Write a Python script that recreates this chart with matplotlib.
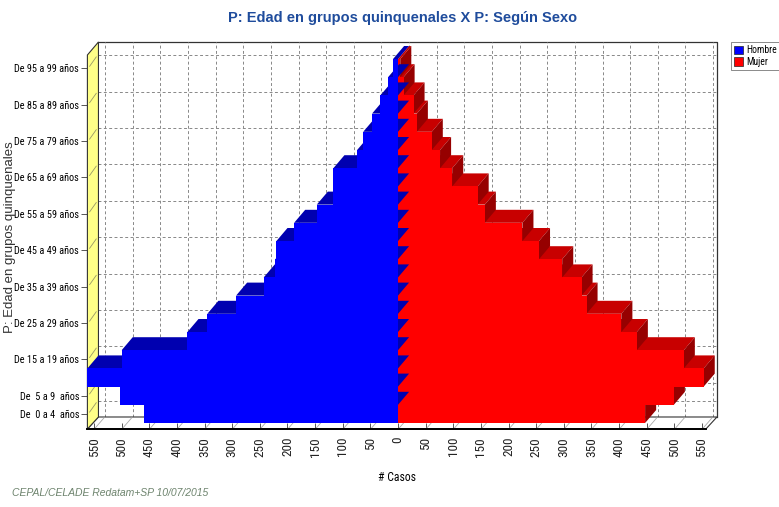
import matplotlib
matplotlib.use("Agg")
import matplotlib.pyplot as plt
from matplotlib.patches import Polygon, Rectangle
from matplotlib import font_manager
from matplotlib.font_manager import FontProperties

# ---------------- data ----------------
age_groups = ["De  0 a 4  años", "De  5 a 9  años", "De 10 a 14 años", "De 15 a 19 años",
              "De 20 a 24 años", "De 25 a 29 años", "De 30 a 34 años", "De 35 a 39 años",
              "De 40 a 44 años", "De 45 a 49 años", "De 50 a 54 años", "De 55 a 59 años",
              "De 60 a 64 años", "De 65 a 69 años", "De 70 a 74 años", "De 75 a 79 años",
              "De 80 a 84 años", "De 85 a 89 años", "De 90 a 94 años", "De 95 a 99 años"]
hombre = [460, 503, 572, 500, 381, 345, 293, 243, 222, 220,
          188, 147, 117, 117, 74, 63, 47, 32, 18, 9]
mujer = [447, 499, 553, 517, 432, 404, 341, 332, 297, 255,
         225, 157, 144, 98, 76, 61, 34, 28, 10, 4]
labeled_rows = [0, 1, 3, 5, 7, 9, 11, 13, 15, 17, 19]
x_ticks = list(range(-550, 551, 50))
series_names = ["Hombre", "Mujer"]

title = "P: Edad en grupos quinquenales X P: Según Sexo"
ylabel = "P: Edad en grupos quinquenales"
xlabel = "# Casos"
footer = "CEPAL/CELADE Redatam+SP 10/07/2015"

# ---------------- fonts ----------------
ttfs = font_manager.fontManager.ttflist
names = {f.name for f in ttfs}
base = "Liberation Sans" if "Liberation Sans" in names else "DejaVu Sans"


def find_narrow():
    prefs = ["Liberation Sans Narrow", "Arial Narrow", "Roboto Condensed",
             "Open Sans Condensed", "Noto Sans Condensed", "DejaVu Sans Condensed"]
    for p in prefs:
        for f in ttfs:
            if f.name == p and f.style == "normal" and f.weight in (400, "normal", "regular"):
                return f.fname
    for f in ttfs:
        st = str(f.stretch)
        if (("Condensed" in f.fname or "Narrow" in f.fname or st in ("condensed", "semi-condensed"))
                and f.style == "normal" and "Bold" not in f.fname and "Mono" not in f.fname):
            return f.fname
    return None


nfile = find_narrow()
if nfile:
    NP = lambda size: FontProperties(fname=nfile, size=size)
else:
    NP = lambda size: FontProperties(family=base, size=size * 0.82)

# ---------------- figure ----------------
W, H = 779, 507
fig = plt.figure(figsize=(W / 100, H / 100), dpi=100)
XMIN, XMAX = -562, 557
YMIN, YMAX = -0.5, 19.72
ax = fig.add_axes([87.4 / W, (H - 423) / H, (705.9 - 87.4) / W, (423 - 55) / H])
ax.set_xlim(XMIN, XMAX)
ax.set_ylim(YMIN, YMAX)

DX, DY = 20, 0.714      # bar depth (data units)
FY = 0.33               # floor half-depth around bar base (rows)
BY = YMIN + FY          # back wall bottom
FRONT = YMIN - FY       # floor front edge

# back wall
ax.add_patch(Polygon([(XMIN + DX, BY), (XMAX + DX, BY), (XMAX + DX, YMAX + DY), (XMIN + DX, YMAX + DY)],
                     closed=True, fc="white", ec="none", zorder=0, clip_on=False))
ax.plot([XMIN + DX, XMAX + DX, XMAX + DX], [YMAX + DY, YMAX + DY, BY],
        color="#333333", lw=0.9, zorder=1, clip_on=False)
for xt in x_ticks:
    ax.plot([xt + DX, xt + DX], [BY, YMAX + DY], color="#888888", lw=0.7,
            ls=(0, (3, 2.5)), zorder=1, clip_on=False)
for r in labeled_rows:
    ax.plot([XMIN + DX, XMAX + DX], [r + DY, r + DY], color="#888888", lw=0.7,
            ls=(0, (3, 2.5)), zorder=1, clip_on=False)

# floor
ax.add_patch(Polygon([(XMIN, FRONT), (XMAX, FRONT), (XMAX + DX, BY), (XMIN + DX, BY)],
                     closed=True, fc="white", ec="#333333", lw=0.8, zorder=1.5, clip_on=False))
for xt in x_ticks:
    ax.plot([xt + 2, xt + DX - 2], [FRONT + 0.05, BY - 0.05], color="#aaaaaa", lw=0.6,
            zorder=1.6, clip_on=False)

# left wall (yellow)
ax.add_patch(Polygon([(XMIN, FRONT), (XMIN + DX, BY), (XMIN + DX, YMAX + DY), (XMIN, YMAX)],
                     closed=True, fc="#FFFF88", ec="#333333", lw=0.8, zorder=2, clip_on=False))
for r in labeled_rows:
    ax.plot([XMIN + 4, XMIN + DX - 4], [r + 0.1, r + DY - 0.1], color="#999966", lw=0.6,
            zorder=2.1, clip_on=False)


def bar3d(x0, x1, yc, front, topc, sidec, z, side=True):
    yb, yt = yc - 0.5, yc + 0.5
    ax.add_patch(Polygon([(x0, yt), (x1, yt), (x1 + DX, yt + DY), (x0 + DX, yt + DY)],
                         closed=True, fc=topc, ec="none", zorder=z, clip_on=False))
    if side:
        ax.add_patch(Polygon([(x1, yb), (x1 + DX, yb + DY), (x1 + DX, yt + DY), (x1, yt)],
                             closed=True, fc=sidec, ec="none", zorder=z, clip_on=False))
    ax.add_patch(Rectangle((x0, yb), x1 - x0, 1, fc=front, ec="none", zorder=z + 0.01,
                           clip_on=False))


z = 3.0
for i, v in enumerate(mujer):
    bar3d(0, v, i, "#FF0000", "#C80000", "#960000", z)
    z += 0.02
for i, v in enumerate(hombre):
    bar3d(max(XMIN, -v), 0, i, "#0000FF", "#0000B0", "#000080", z, side=False)
    z += 0.02

# axes cosmetics
for s in ax.spines.values():
    s.set_visible(False)
ax.plot([XMIN, XMAX], [FRONT, FRONT], color="black", lw=1.4, zorder=10, clip_on=False)
ax.set_xticks(x_ticks)
ax.set_xticklabels([str(abs(t)) for t in x_ticks], rotation=90, color="#222222")
for t in ax.get_xticklabels():
    t.set_fontproperties(NP(9.5))
ax.set_yticks(labeled_rows)
ax.set_yticklabels([age_groups[r] for r in labeled_rows])
for t in ax.get_yticklabels():
    t.set_fontproperties(NP(7.4))
ax.tick_params(axis="x", length=4, width=0.7, pad=6, color="#555555")
ax.tick_params(axis="y", length=4, width=0.7, pad=2, color="#555555")
ax.set_xlabel(xlabel, fontproperties=NP(8.5), labelpad=10)

fig.text(10 / W, 1 - 237 / H, ylabel, ha="center", va="center", rotation=90, fontsize=9.5,
         family=base, color="#333333")
fig.text(403 / W, 1 - 18 / H, title, ha="center", va="center", fontsize=10.5,
         fontweight="bold", family=base, color="#1F4C9C")
fig.text(12 / W, 1 - 493 / H, footer, ha="left", va="center", fontsize=7.5,
         style="italic", family=base, color="#6E846E")

# legend
leg = ax.legend(handles=[Rectangle((0, 0), 1, 1, fc="#0000FF", ec="#222222", lw=0.5),
                         Rectangle((0, 0), 1, 1, fc="#FF0000", ec="#222222", lw=0.5)],
                labels=series_names, loc="upper left", bbox_to_anchor=(731 / W, 1 - 42 / H),
                bbox_transform=fig.transFigure, prop=NP(7),
                frameon=True, fancybox=False, edgecolor="#555555", handlelength=0.9,
                handleheight=0.9, handletextpad=0.35, borderpad=0.3, labelspacing=0.2,
                borderaxespad=0)
leg.get_frame().set_linewidth(0.6)

fig.savefig("out.png", dpi=100)
